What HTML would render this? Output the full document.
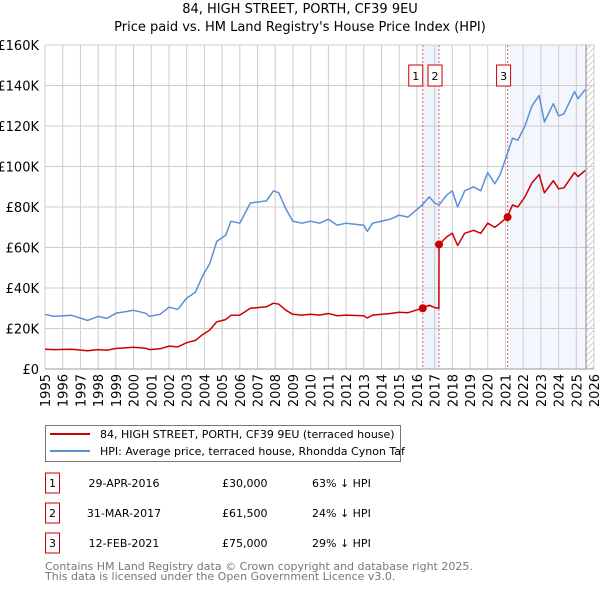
<!DOCTYPE html>
<html><head><meta charset="utf-8"><style>
body{margin:0;background:#fff;font-family:"DejaVu Sans","Liberation Sans",sans-serif;}
#wrap{position:relative;width:600px;height:590px;overflow:hidden}
svg{position:absolute;left:0;top:0}
</style></head><body>
<div id="wrap">
<svg id="c" width="600" height="590"></svg>
</div>
<script>
const hpiYears=[1995.0,1995.5,1996.5,1997.4,1998.0,1998.5,1999.0,2000.0,2000.7,2000.9,2001.5,2002.0,2002.5,2003.0,2003.5,2003.9,2004.3,2004.7,2005.2,2005.5,2006.0,2006.6,2007.5,2007.9,2008.2,2008.6,2009.0,2009.5,2010.0,2010.5,2011.0,2011.5,2012.0,2013.0,2013.2,2013.5,2014.5,2015.0,2015.5,2016.3,2016.7,2017.0,2017.25,2017.7,2018.0,2018.3,2018.7,2019.2,2019.6,2020.0,2020.4,2020.7,2021.1,2021.4,2021.7,2022.1,2022.5,2022.9,2023.2,2023.7,2024.0,2024.3,2024.9,2025.1,2025.5];
const hpiValues=[27,26,26.5,24,26,25,27.5,29,27.5,26,27,30.5,29.5,35,38,46,52,63,66,73,72,82,83,88,87,79,73,72,73,72,74,71,72,71,68,72,74,76,75,81,85,82,81,86,88,80,88,90,88,97,91.5,96,106,114,113,120,130,135,122,131,125,126,137,133.5,138];
const priceYears=[1995.0,1995.5,1996.5,1997.4,1998.0,1998.5,1999.0,2000.0,2000.7,2000.9,2001.5,2002.0,2002.5,2003.0,2003.5,2003.9,2004.3,2004.7,2005.2,2005.5,2006.0,2006.6,2007.5,2007.9,2008.2,2008.6,2009.0,2009.5,2010.0,2010.5,2011.0,2011.5,2012.0,2013.0,2013.2,2013.5,2014.5,2015.0,2015.5,2016.3,2016.7,2017.0,2017.24,2017.25,2017.7,2018.0,2018.3,2018.7,2019.2,2019.6,2020.0,2020.4,2020.7,2021.1,2021.4,2021.7,2022.1,2022.5,2022.9,2023.2,2023.7,2024.0,2024.3,2024.9,2025.1,2025.5];
const priceValues=[9.8,9.6,9.8,9.0,9.6,9.3,10.1,10.7,10.2,9.6,10.0,11.3,10.9,13.0,14.1,17.0,19.2,23.3,24.4,26.5,26.6,30,30.7,32.5,32,29,27,26.6,27,26.6,27.4,26.3,26.6,26.3,25.2,26.6,27.4,28,27.8,30,31.5,30.3,30,61.5,65.4,67,61,67,68.5,67,72,70,72,75,81,80,85,92,96,87,93,89,89.5,97,95,98];
const saleYears=[2016.33,2017.25,2021.12];
const saleValues=[30,61.5,75];
const saleLabels=["1","2","3"];
const yTicks=[0,20,40,60,80,100,120,140,160];
const yTickLabels=["£0","£20K","£40K","£60K","£80K","£100K","£120K","£140K","£160K"];
const xTicks=[];for(let y=1995;y<=2026;y++)xTicks.push(y);
const tableDates=["29-APR-2016","31-MAR-2017","12-FEB-2021"];
const tablePrices=["£30,000","£61,500","£75,000"];
const tableHpi=["63% ↓ HPI","24% ↓ HPI","29% ↓ HPI"];

const L=45,R=594,T=45,B=369;
const X=y=>L+(y-1995)/(2026-1995)*(R-L);
const Y=v=>B-v/160*(B-T);
const svg=document.getElementById('c');const NS='http://www.w3.org/2000/svg';
function mk(t,a,p){const e=document.createElementNS(NS,t);for(const k in a)e.setAttribute(k,a[k]);(p||svg).appendChild(e);return e;}
function tx(s,a,name){const e=mk('text',a);e.textContent=s;return e;}

let e;
e=tx("84, HIGH STREET, PORTH, CF39 9EU",{x:300,y:13,'text-anchor':'middle','font-size':13,fill:'#000'},'chart-title');
e=tx("Price paid vs. HM Land Registry's House Price Index (HPI)",{x:300,y:31,'text-anchor':'middle','font-size':13,fill:'#000'},'chart-subtitle');

e=mk('rect',{x:X(saleYears[0]),y:T,width:X(saleYears[1])-X(saleYears[0]),height:B-T,fill:'#eef3fc'});

e=mk('rect',{x:X(saleYears[2]),y:T,width:X(2025.55)-X(saleYears[2]),height:B-T,fill:'#f3f6fd'});

const defs=mk('defs',{});const pat=mk('pattern',{id:'h',width:6,height:6,patternUnits:'userSpaceOnUse'},defs);
mk('path',{d:'M0,6 L6,0',stroke:'#bbb','stroke-width':0.7},pat);
e=mk('rect',{x:X(2025.55),y:T,width:R-X(2025.55),height:B-T,fill:'url(#h)'});


const g=mk('g',{});
xTicks.forEach(y=>mk('line',{x1:X(y),x2:X(y),y1:T,y2:B,stroke:'#ccc','stroke-width':1},g));
yTicks.forEach(v=>mk('line',{x1:L,x2:R,y1:Y(v),y2:Y(v),stroke:'#ccc','stroke-width':1},g));
mk('line',{x1:X(2025.55),x2:X(2025.55),y1:T,y2:B,stroke:'#888','stroke-width':1},g);
mk('line',{x1:L,x2:R,y1:B,y2:B,stroke:'#999','stroke-width':1},g);

yTicks.forEach((v,i)=>{tx(yTickLabels[i],{x:39,y:Y(v)+5,'text-anchor':'end','font-size':13,fill:'#000'},'y-tick-label');});
xTicks.forEach(y=>{tx(String(y),{x:0,y:0,'text-anchor':'end','font-size':13,fill:'#000',transform:`translate(${X(y)+5},${B+5}) rotate(-90)`},'x-tick-label');});

saleYears.forEach((y,i)=>{e=mk('line',{x1:X(y),x2:X(y),y1:T,y2:B,stroke:'#e06060','stroke-width':1,'stroke-dasharray':'2,2'});
});

function path(xs,vs,col,name){let d='';xs.forEach((y,i)=>{d+=(i?'L':'M')+X(y).toFixed(1)+','+Y(vs[i]).toFixed(1);});
const p=mk('path',{d,fill:'none',stroke:col,'stroke-width':1.5,'stroke-linejoin':'round'});}
path(hpiYears,hpiValues,'#5b8fd6','hpi-line');
path(priceYears,priceValues,'#cc0000','price-line');
saleYears.forEach((y,i)=>{e=mk('circle',{cx:X(y),cy:Y(saleValues[i]),r:4,fill:'#cc0000'});
});
const markerOff=[-7,-4,-4];
saleYears.forEach((y,i)=>{const cx=X(y)+markerOff[i];e=mk('rect',{x:cx-7,y:65,width:14,height:21,fill:'#fff',stroke:'#cc0000','stroke-width':1});

tx(saleLabels[i],{x:cx,y:80,'text-anchor':'middle','font-size':11,fill:'#000'},'sale-marker-label');});

e=mk('rect',{x:45.5,y:425.5,width:355,height:36,fill:'#fff',stroke:'#777','stroke-width':1});

e=mk('line',{x1:50,x2:90,y1:434,y2:434,stroke:'#cc0000','stroke-width':2});
tx("84, HIGH STREET, PORTH, CF39 9EU (terraced house)",{x:100,y:438,'font-size':11,fill:'#000'},'legend-price-label');
e=mk('line',{x1:50,x2:90,y1:451,y2:451,stroke:'#5b8fd6','stroke-width':2});
tx("HPI: Average price, terraced house, Rhondda Cynon Taf",{x:100,y:455,'font-size':11,fill:'#000'},'legend-hpi-label');

[483,513,543].forEach((cy,i)=>{
e=mk('rect',{x:45.5,y:cy-10,width:14,height:20,fill:'#fff',stroke:'#cc0000','stroke-width':1});

tx(saleLabels[i],{x:52.5,y:cy+4,'text-anchor':'middle','font-size':11,fill:'#000'},'table-index');
tx(tableDates[i],{x:124,y:cy+4,'text-anchor':'middle','font-size':11,fill:'#000'},'table-date');
tx(tablePrices[i],{x:222,y:cy+4,'font-size':11,fill:'#000'},'table-price');
tx(tableHpi[i],{x:312,y:cy+4,'font-size':11,fill:'#000'},'table-hpi');
});
tx("Contains HM Land Registry data © Crown copyright and database right 2025.",{x:45,y:570,'font-size':11,fill:'#777'},'footer-line-1');
tx("This data is licensed under the Open Government Licence v3.0.",{x:45,y:580,'font-size':11,fill:'#777'},'footer-line-2');
</script>
</body></html>
